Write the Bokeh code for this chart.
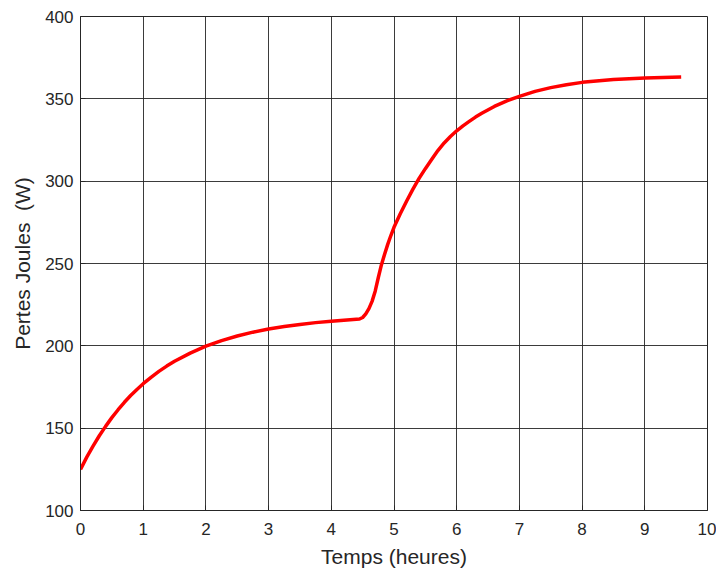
from bokeh.plotting import figure
from bokeh.models import Range1d, FixedTicker
from bokeh.embed import file_html
from bokeh.resources import INLINE

# Temps (heures)
t = [0.0, 0.1, 0.2, 0.3, 0.4, 0.5, 0.6, 0.7, 0.8, 0.9, 1.0, 1.125, 1.25,
     1.375, 1.5, 1.75, 2.0, 2.25, 2.5, 2.75, 3.0,
     3.25, 3.5, 3.75, 4.0, 4.25, 4.45, 4.5, 4.55, 4.6, 4.65, 4.7, 4.75, 4.8,
     4.85, 4.9, 4.95, 5.0, 5.1, 5.2, 5.3, 5.4, 5.5, 5.6, 5.7, 5.8, 5.9, 6.0,
     6.1, 6.2, 6.3, 6.4, 6.6, 6.8, 7.0, 7.25, 7.5, 7.75, 8.0, 8.5, 9.0, 9.58]
# Pertes Joules (W)
pj = [125.0, 132.4, 139.1, 145.4, 151.1, 156.4, 161.2, 165.7, 169.8, 173.5,
      177.0, 180.9, 184.5, 187.7, 190.6, 195.6, 199.8, 203.2,
      206.0, 208.3, 210.2, 211.7, 213.0, 214.1, 215.0, 215.7, 216.3, 217.2,
      219.4, 222.6, 227.0, 233.2, 241.5, 249.3, 255.6, 261.6, 267.0, 272.0,
      280.2, 287.8, 295.0, 301.7, 307.6, 313.2, 318.6, 323.2, 327.1, 330.6,
      333.6, 336.3, 338.9, 341.2, 345.4, 348.8, 351.5, 354.5, 356.8, 358.6,
      360.0, 361.8, 362.7, 363.2]

x_ticks = [0, 1, 2, 3, 4, 5, 6, 7, 8, 9, 10]
y_ticks = [100, 150, 200, 250, 300, 350, 400]

FONT = "Liberation Sans"
DARK = "#262626"

p = figure(width=716, height=574, output_backend="svg", toolbar_location=None,
           x_range=Range1d(0, 10), y_range=Range1d(100, 400),
           min_border_left=80, min_border_right=9, min_border_top=16,
           min_border_bottom=64)

p.line(t, pj, line_color="#ff0000", line_width=3.5, line_join="round")

p.xaxis.ticker = FixedTicker(ticks=x_ticks)
p.yaxis.ticker = FixedTicker(ticks=y_ticks)
p.xaxis.axis_label = "Temps (heures)"
p.yaxis.axis_label = "Pertes Joules\u00a0 (W)"

for ax in (p.xaxis, p.yaxis):
    ax.axis_label_text_font = FONT
    ax.axis_label_text_font_style = "normal"
    ax.axis_label_text_font_size = "21px"
    ax.axis_label_text_color = DARK
    ax.major_label_text_font = FONT
    ax.major_label_text_font_size = "17px"
    ax.major_label_text_color = DARK
    ax.axis_line_color = DARK
    ax.major_tick_line_color = DARK
    ax.major_tick_in = 5
    ax.major_tick_out = 0
    ax.minor_tick_line_color = None

p.xaxis.major_label_standoff = 12
p.yaxis.major_label_standoff = 7
p.xaxis.axis_label_standoff = 7
p.yaxis.axis_label_standoff = 8

p.xgrid.grid_line_color = DARK
p.ygrid.grid_line_color = DARK
p.xgrid.grid_line_alpha = 0.9
p.ygrid.grid_line_alpha = 0.9

p.outline_line_color = DARK
p.outline_line_alpha = 1.0
p.background_fill_color = "white"
p.border_fill_color = "white"

open("out.html", "w").write(file_html(p, INLINE))
